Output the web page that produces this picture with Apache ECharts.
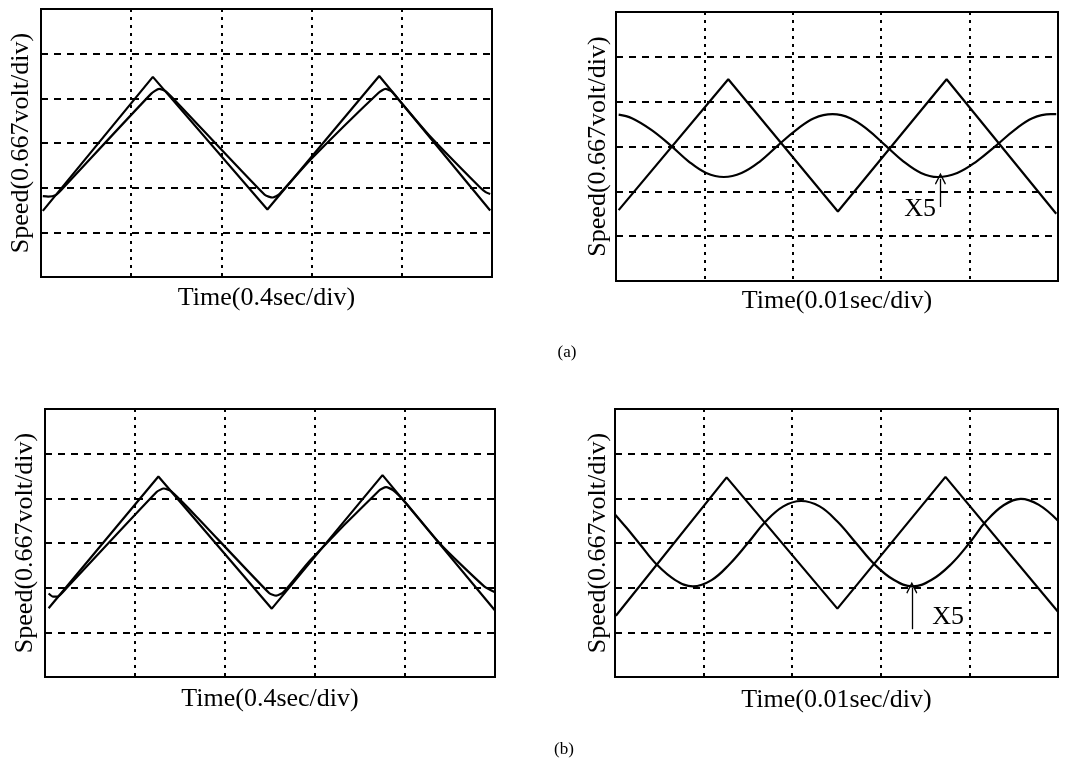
<!DOCTYPE html>
<html>
<head>
<meta charset="utf-8">
<script src="https://cdn.jsdelivr.net/npm/echarts@6/dist/echarts.min.js"></script>
<style>
  html, body { margin: 0; background: #fff; }
  #chart { width: 1073px; height: 769px; }
</style>
</head>
<body>
<div id="chart"></div>
<script>
// values in scope divisions: x 0..5, y 0..6
const refA1 = [[0.02, 1.48], [1.24, 4.48], [2.51, 1.51], [3.75, 4.50], [4.98, 1.49]]
const respA1 = [[0.02, 1.81], [0.08, 1.80], [0.16, 1.83], [0.23, 1.96], [1.22, 4.10], [1.31, 4.21], [1.38, 4.16],
  [1.52, 3.88], [2.48, 1.84], [2.57, 1.78], [2.64, 1.85], [2.99, 2.63], [3.74, 4.12], [3.82, 4.21], [3.89, 4.15],
  [3.97, 3.96], [4.30, 3.18], [4.86, 2.02], [4.93, 1.90], [4.98, 1.86]]

const refA2 = [[0.03, 1.58], [1.27, 4.50], [2.51, 1.55], [3.74, 4.50], [4.98, 1.50]]
const sineA2 = [[0.03, 3.71], [0.18, 3.63], [0.40, 3.37], [0.62, 3.02], [0.82, 2.67], [1.02, 2.41], [1.22, 2.32],
  [1.42, 2.41], [1.63, 2.67], [1.83, 3.02], [2.04, 3.37], [2.24, 3.63], [2.45, 3.72], [2.65, 3.63], [2.85, 3.37],
  [3.05, 3.02], [3.25, 2.67], [3.45, 2.41], [3.64, 2.32], [3.86, 2.41], [4.08, 2.67], [4.30, 3.02], [4.51, 3.37],
  [4.71, 3.63], [4.92, 3.72], [4.98, 3.72]]

const refB1 = [[0.04, 1.54], [1.26, 4.49], [2.52, 1.53], [3.75, 4.52], [5.0, 1.49]]
const respB1 = [[0.04, 1.87], [0.09, 1.80], [0.15, 1.81], [0.23, 1.97], [1.24, 4.14], [1.32, 4.22], [1.40, 4.16],
  [1.66, 3.64], [2.49, 1.88], [2.57, 1.82], [2.65, 1.90], [2.95, 2.62], [3.71, 4.17], [3.79, 4.25], [3.87, 4.18],
  [4.0, 3.92], [4.4, 2.96], [4.88, 2.03], [5.0, 1.9]]

const refB2 = [[0.01, 1.37], [1.26, 4.47], [2.51, 1.53], [3.73, 4.48], [5.0, 1.46]]
const sineB2 = [[0.0, 3.64], [0.13, 3.34], [0.27, 3.0], [0.47, 2.52], [0.68, 2.17], [0.88, 2.03], [1.09, 2.17],
  [1.29, 2.52], [1.5, 3.0], [1.7, 3.48], [1.9, 3.82], [2.1, 3.94], [2.31, 3.82], [2.51, 3.48], [2.72, 3.0],
  [2.93, 2.52], [3.15, 2.17], [3.36, 2.03], [3.57, 2.17], [3.79, 2.52], [4.0, 3.0], [4.19, 3.49], [4.39, 3.85],
  [4.58, 3.99], [4.78, 3.86], [5.0, 3.5]]

// "X5" pointer: arrow from/to and label point, in divisions
const arrowA2 = [[3.67, 1.65], [3.67, 2.28]]
const x5A2 = [3.44, 1.6]
const arrowB2 = [[3.35, 1.07], [3.35, 2.0]]
const x5B2 = [3.76, 1.35]

const yName = 'Speed(0.667volt/div)'
const xNames = ['Time(0.4sec/div)', 'Time(0.01sec/div)', 'Time(0.4sec/div)', 'Time(0.01sec/div)']

const serif = '"Liberation Serif", "Times New Roman", serif'
const chevron = 'path://M0,0 L6,9 L5,10 L0,2.5 L-5,10 L-6,9 Z'

const grids = [
  { left: 41, top: 9, width: 451, height: 268 },
  { left: 616, top: 12, width: 442, height: 269 },
  { left: 45, top: 409, width: 450, height: 268 },
  { left: 615, top: 409, width: 443, height: 268 }
]
const xGaps = [8, 7, 9, 10]
const yGaps = [7, 5, 7, 4]

const nameStyle = { fontFamily: serif, fontSize: 26, color: '#000' }

function xAxisOf (i) {
  return {
    gridIndex: i,
    type: 'value',
    min: 0,
    max: 5,
    interval: 1,
    name: xNames[i],
    nameLocation: 'middle',
    nameGap: xGaps[i],
    nameTextStyle: nameStyle,
    axisLine: { show: false },
    axisTick: { show: false },
    axisLabel: { show: false },
    splitLine: { show: true, lineStyle: { color: '#000', width: 2, type: [3, 5] } }
  }
}

function yAxisOf (i) {
  return {
    gridIndex: i,
    type: 'value',
    min: 0,
    max: 6,
    interval: 1,
    name: yName,
    nameLocation: 'middle',
    nameRotate: 90,
    nameGap: yGaps[i],
    nameTextStyle: nameStyle,
    axisLine: { show: false },
    axisTick: { show: false },
    axisLabel: { show: false },
    splitLine: { show: true, lineStyle: { color: '#000', width: 2, type: [7, 6] } }
  }
}

function trace (i, data, smooth, extra) {
  return Object.assign({
    type: 'line',
    xAxisIndex: i,
    yAxisIndex: i,
    data: data,
    symbol: 'none',
    smooth: smooth,
    silent: true,
    lineStyle: { color: '#000', width: 2.2 }
  }, extra || {})
}

function pointer (arrow, at) {
  return {
    markLine: {
      silent: true,
      symbol: ['none', chevron],
      symbolSize: [11, 12],
      label: { show: false },
      lineStyle: { color: '#000', width: 1.3, type: 'solid' },
      data: [[{ coord: arrow[0] }, { coord: arrow[1] }]]
    },
    markPoint: {
      silent: true,
      symbol: 'circle',
      symbolSize: 1,
      itemStyle: { color: 'rgba(0,0,0,0)' },
      label: { show: true, position: 'inside', formatter: 'X5', color: '#000', fontFamily: serif, fontSize: 26 },
      data: [{ coord: at }]
    }
  }
}

const option = {
  animation: false,
  backgroundColor: '#fff',
  grid: grids.map(g => Object.assign({ show: true, borderColor: '#000', borderWidth: 2, backgroundColor: 'transparent' }, g)),
  xAxis: [0, 1, 2, 3].map(xAxisOf),
  yAxis: [0, 1, 2, 3].map(yAxisOf),
  series: [
    trace(0, refA1, false),
    trace(0, respA1, 0.2),
    trace(1, refA2, false),
    trace(1, sineA2, 0.4, pointer(arrowA2, x5A2)),
    trace(2, refB1, false),
    trace(2, respB1, 0.2),
    trace(3, refB2, false),
    trace(3, sineB2, 0.4, pointer(arrowB2, x5B2))
  ],
  graphic: [
    { type: 'text', x: 567, y: 353, style: { text: '(a)', font: '17px ' + serif, fill: '#000', textAlign: 'center', textVerticalAlign: 'middle' } },
    { type: 'text', x: 564, y: 750, style: { text: '(b)', font: '17px ' + serif, fill: '#000', textAlign: 'center', textVerticalAlign: 'middle' } }
  ]
}

const chart = echarts.init(document.getElementById('chart'))
chart.setOption(option)
</script>
</body>
</html>
